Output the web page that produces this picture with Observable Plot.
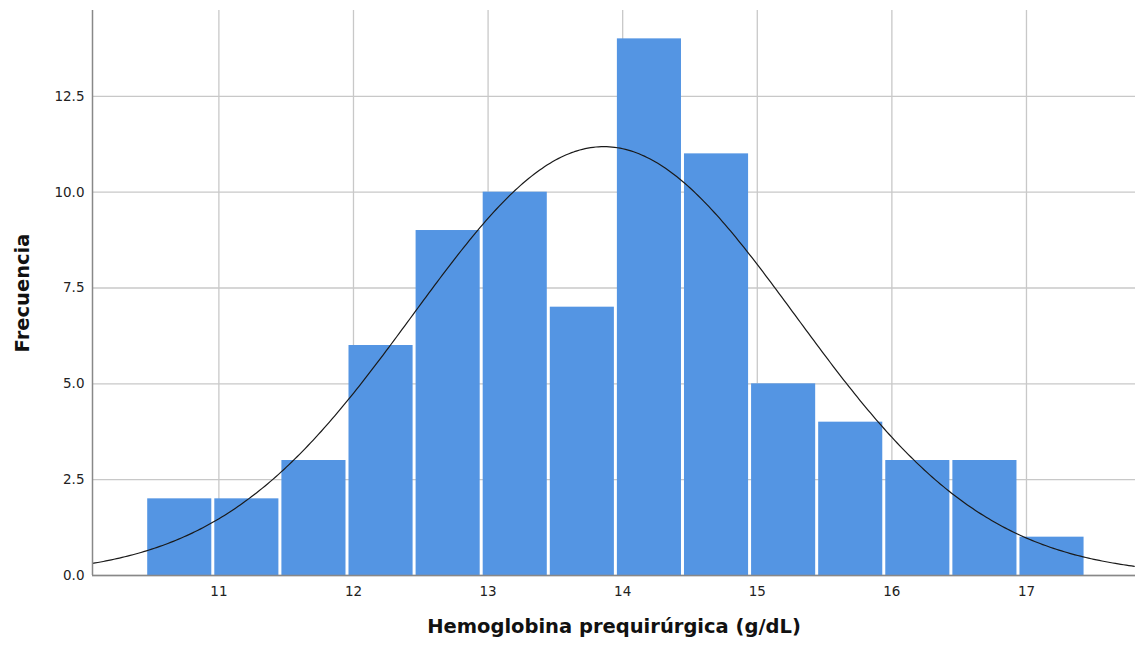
<!DOCTYPE html>
<html>
<head>
<meta charset="utf-8">
<script src="https://cdn.jsdelivr.net/npm/d3@7"></script>
<script src="https://cdn.jsdelivr.net/npm/@observablehq/plot@0.6"></script>
<style>
  html, body { margin: 0; padding: 0; background: #fff; }
</style>
</head>
<body>
<div id="chart"></div>
<script>
// Histogram bins (g/dL)
const binStart = 10.46;
const binWidth = 0.4985;
const counts = [2, 2, 3, 6, 9, 10, 7, 14, 11, 5, 4, 3, 3, 1];

// Fitted normal curve parameters
const curveMean = 13.86;
const curveSD = 1.422;
const curveN = 80;

const xTicks = [11, 12, 13, 14, 15, 16, 17];
const yTicks = [0, 2.5, 5, 7.5, 10, 12.5];

const xLabel = "Hemoglobina prequirúrgica (g/dL)";
const yLabel = "Frecuencia";

const xDomain = [10.061, 17.81];
const yDomain = [0, 14.74];

const bins = counts.map((c, i) => ({
  x1: binStart + i * binWidth,
  x2: binStart + (i + 1) * binWidth,
  count: c
}));

const curve = d3.range(xDomain[0], xDomain[1] + 0.001, 0.02).map(x => ({
  x,
  y: curveN * binWidth / (curveSD * Math.sqrt(2 * Math.PI)) *
     Math.exp(-0.5 * ((x - curveMean) / curveSD) ** 2)
}));

const font = "DejaVu Sans, sans-serif";

const chart = Plot.plot({
  width: 1135,
  height: 649,
  marginLeft: 92,
  marginRight: 0,
  marginTop: 10,
  marginBottom: 74,
  style: { fontFamily: font, fontSize: "13.5px", background: "#fff", color: "#222" },
  x: { domain: xDomain, ticks: xTicks, tickFormat: d => String(d) },
  y: { domain: yDomain, ticks: yTicks, tickFormat: d3.format(".1f") },
  marks: [
    Plot.gridX(xTicks, { stroke: "#c8c8c8", strokeOpacity: 1, strokeWidth: 1.3 }),
    Plot.gridY(yTicks, { stroke: "#c8c8c8", strokeOpacity: 1, strokeWidth: 1.3 }),
    Plot.rectY(bins, {
      x1: "x1", x2: "x2", y: "count",
      fill: "#5495e3", insetLeft: 1.5, insetRight: 1.5
    }),
    Plot.line(curve, { x: "x", y: "y", stroke: "#1a1a1a", strokeWidth: 1.2, clip: true }),
    Plot.ruleX([xDomain[0]], { stroke: "#888", strokeWidth: 1.5 }),
    Plot.ruleY([0], { stroke: "#888", strokeWidth: 1.5 }),
    Plot.axisX(xTicks, { tickSize: 0, tickPadding: 11, fontSize: 13.5, label: null, tickFormat: d => String(d) }),
    Plot.axisY(yTicks, { tickSize: 0, tickPadding: 8, fontSize: 13.5, label: null, tickFormat: d3.format(".1f") }),
    Plot.text([xLabel], {
      frameAnchor: "bottom", dy: 57, fontSize: 19.5, fontWeight: "bold", fill: "#111"
    }),
    Plot.text([yLabel], {
      frameAnchor: "left", dx: -70, rotate: -90, textAnchor: "middle",
      fontSize: 19.5, fontWeight: "bold", fill: "#111"
    })
  ]
});

document.getElementById("chart").appendChild(chart);
</script>
</body>
</html>
